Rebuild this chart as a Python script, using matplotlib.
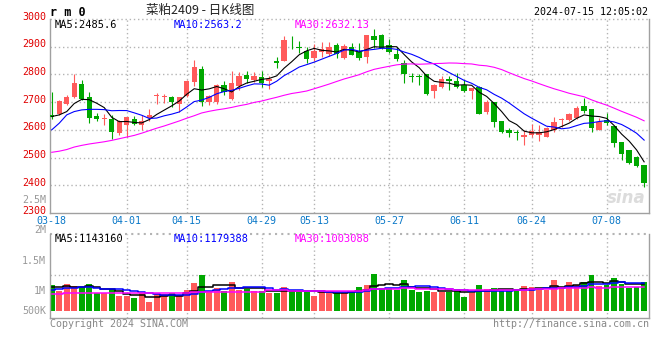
import numpy as np
import pandas as pd
import matplotlib
matplotlib.use("Agg")
import matplotlib.pyplot as plt
import matplotlib.transforms as mtransforms

W, H = 660, 360

# trading days (weekends and exchange holidays are skipped)
holidays = ["2024-04-04", "2024-04-05", "2024-05-01", "2024-05-02", "2024-05-03", "2024-06-10"]
days = pd.bdate_range("2024-03-18", "2024-07-15")
days = days[~days.isin(pd.to_datetime(holidays))]
tick_labels = ["03-18", "04-01", "04-15", "04-29", "05-13", "05-27", "06-11", "06-24", "07-08"]

opens = [2655, 2656, 2695, 2719, 2764, 2719, 2650, 2639, 2639, 2588,
         2616, 2638, 2618, 2642, 2721, 2718, 2719, 2695, 2723, 2773,
         2818, 2699, 2699, 2761, 2713, 2758, 2799, 2779, 2789, 2775,
         2850, 2848, 2911, 2898, 2886, 2858, 2880, 2874, 2907, 2860,
         2900, 2880, 2862, 2939, 2943, 2907, 2874, 2842, 2794, 2794,
         2800, 2739, 2755, 2782, 2777, 2761, 2739, 2755, 2666, 2699,
         2632, 2600, 2591, 2573, 2580, 2582, 2576, 2600, 2635, 2635,
         2644, 2687, 2675, 2601, 2636, 2614, 2557, 2529, 2501, 2475]
highs = [2735, 2707, 2727, 2800, 2779, 2735, 2660, 2656, 2654, 2636,
         2648, 2650, 2654, 2677, 2733, 2731, 2721, 2719, 2779, 2852,
         2832, 2727, 2767, 2776, 2814, 2808, 2812, 2808, 2814, 2794,
         2862, 2939, 2937, 2921, 2898, 2910, 2918, 2918, 2913, 2910,
         2915, 2915, 2943, 2963, 2945, 2927, 2898, 2852, 2806, 2801,
         2800, 2764, 2796, 2794, 2806, 2779, 2751, 2757, 2707, 2699,
         2632, 2606, 2600, 2600, 2622, 2618, 2612, 2648, 2644, 2662,
         2687, 2716, 2675, 2642, 2660, 2614, 2557, 2529, 2505, 2475]
lows = [2640, 2653, 2689, 2716, 2707, 2624, 2632, 2618, 2568, 2580,
        2576, 2618, 2598, 2632, 2692, 2698, 2683, 2666, 2718, 2757,
        2687, 2689, 2695, 2727, 2707, 2743, 2769, 2773, 2755, 2749,
        2824, 2848, 2892, 2877, 2840, 2850, 2864, 2865, 2858, 2856,
        2870, 2852, 2840, 2895, 2893, 2877, 2850, 2770, 2773, 2761,
        2725, 2716, 2751, 2744, 2751, 2737, 2713, 2657, 2657, 2612,
        2588, 2576, 2564, 2547, 2573, 2561, 2574, 2594, 2611, 2632,
        2639, 2660, 2594, 2599, 2618, 2537, 2491, 2478, 2467, 2394]
closes = [2647, 2704, 2719, 2769, 2711, 2642, 2639, 2641, 2594, 2632,
          2645, 2622, 2632, 2654, 2725, 2723, 2699, 2719, 2775, 2826,
          2699, 2721, 2761, 2735, 2768, 2796, 2785, 2793, 2769, 2785,
          2842, 2925, 2908, 2895, 2856, 2886, 2890, 2898, 2874, 2904,
          2871, 2858, 2943, 2924, 2895, 2882, 2856, 2802, 2791, 2791,
          2731, 2761, 2782, 2777, 2755, 2739, 2751, 2657, 2701, 2627,
          2594, 2587, 2587, 2582, 2597, 2593, 2606, 2627, 2639, 2656,
          2680, 2668, 2606, 2630, 2623, 2551, 2513, 2481, 2469, 2409]
# volume, thousands of lots
volumes = [1092, 854, 1134, 1050, 994, 1134, 742, 742, 910, 630,
           630, 546, 742, 378, 700, 714, 770, 672, 882, 1190,
           1512, 854, 952, 854, 1232, 882, 910, 854, 854, 770,
           770, 1022, 882, 798, 812, 630, 882, 770, 742, 742,
           854, 1022, 1092, 1554, 952, 952, 882, 1302, 882, 812,
           854, 812, 812, 812, 910, 602, 770, 1092, 924, 952,
           854, 854, 910, 1050, 1022, 924, 882, 1302, 994, 1218,
           1092, 1218, 1512, 1050, 1092, 1386, 1134, 952, 1022, 1218]

# moving-average values before a full window exists
ma5_head = [2648, 2654, 2666, 2695]
ma10_head = [2600, 2624, 2654, 2666, 2672, 2674, 2674, 2673, 2669]
ma30_head = [2519, 2523, 2529, 2538, 2544, 2549, 2553, 2557, 2562, 2568,
             2574, 2580, 2588, 2597, 2606, 2614, 2623, 2632, 2642, 2651,
             2661, 2667, 2672, 2676, 2681, 2687, 2692, 2699, 2704]
vma5_head = [994, 1022, 1050, 1022]
vma10_head = [882, 910, 952, 980, 994, 994, 966, 938, 910]
vma30_head = [700, 700, 742, 742, 742, 742, 742, 742, 770, 770,
              770, 770, 770, 770, 770, 770, 770, 770, 770, 798,
              798, 798, 798, 798, 798, 798, 798, 798, 798]

# legend values as printed on the chart
price_ma_text = ["MA5:2485.6", "MA10:2563.2", "MA30:2632.13"]
vol_ma_text = ["MA5:1143160", "MA10:1179388", "MA30:1003088"]
vol_axis_labels = ["2.5M", "2M", "1.5M", "1M", "500K"]

RED = "#ff5a5a"
GREEN = "#00a800"
GRID = "#b4b4b4"
FRAME = "#a0a0a0"
MONO = "DejaVu Sans Mono"
MA_COLORS = ["black", "#0000ff", "#ff00ff"]


def moving(vals, n, head):
    s = pd.Series(vals, dtype=float).rolling(n).mean()
    s.iloc[:n - 1] = head
    return s.values


o = np.array(opens)
h = np.array(highs)
l = np.array(lows)
c = np.array(closes)
v = np.array(volumes) * 1000.0
x = np.arange(len(c))
cols = np.where(c >= o, RED, GREEN)

ma = [moving(closes, 5, ma5_head), moving(closes, 10, ma10_head), moving(closes, 30, ma30_head)]
vma = [moving(volumes, 5, vma5_head) * 1000, moving(volumes, 10, vma10_head) * 1000,
       moving(volumes, 30, vma30_head) * 1000]

tick_idx = [days.get_loc(pd.Timestamp("2024-" + t)) for t in tick_labels]

fig = plt.figure(figsize=(W / 100, H / 100), dpi=100)


def box(x0, y0, x1, y1):
    return [x0 / W, 1 - y1 / H, (x1 - x0) / W, (y1 - y0) / H]


def ptext(px, py, s, **kw):
    fig.text(px / W, 1 - py / H, s, **kw)


# ---- price panel
ax = fig.add_axes(box(50, 19, 649, 213))
ax.set_xlim(-0.23, 79.65)
ax.set_ylim(2300, 3000)
for p in range(2400, 3001, 100):
    ax.axhline(p, color=GRID, lw=1, ls=(0, (1, 2)), zorder=0, clip_on=False)
for t in tick_idx[1:]:
    ax.axvline(t, color=GRID, lw=1, ls=(0, (1, 2)), zorder=0)

ax.vlines(x, l, h, colors=cols, lw=0.8, zorder=2)
body = np.maximum(np.abs(c - o), 2.5)
ax.bar(x, body, bottom=np.minimum(o, c), width=0.72, color=cols, lw=0, zorder=3)

for line, col in zip(ma, MA_COLORS):
    ax.plot(x, line, color=col, lw=0.8, zorder=4)

ax.set_yticks(range(2300, 3001, 100))
ax.tick_params(axis="y", length=0, pad=3, labelcolor="#e00000", labelsize=7.2)
ax.set_xticks(tick_idx, tick_labels)
ax.tick_params(axis="x", length=0, pad=2, labelcolor="#0a78c8", labelsize=7.2)
up = mtransforms.ScaledTranslation(0, 2.5 / 72, fig.dpi_scale_trans)
for lab in ax.get_yticklabels():
    lab.set_family(MONO)
    lab.set_transform(lab.get_transform() + up)
for lab in ax.get_xticklabels():
    lab.set_family(MONO)
ax.spines["top"].set_visible(False)
for s in ["left", "right", "bottom"]:
    ax.spines[s].set_color(FRAME)
    ax.spines[s].set_linewidth(1)

ax.text(0.995, 0.03, "sina", transform=ax.transAxes, ha="right", va="bottom",
        fontsize=12, fontweight="bold", style="italic", color="#dcdcdc", zorder=1)

# ---- volume panel
axv = fig.add_axes(box(50, 234, 649, 318))
axv.set_xlim(-0.23, 79.65)
axv.set_ylim(-294e3, 3234e3)
axv.axhline(1.5e6, color=GRID, lw=1, ls=(0, (1, 2)), zorder=0)
axv.axhline(3234e3, color=GRID, lw=1.5, ls=(0, (1, 2)), zorder=0, clip_on=False)
for t in tick_idx[1:]:
    axv.axvline(t, color=GRID, lw=1, ls=(0, (1, 2)), zorder=0)
axv.bar(x, v, width=0.76, color=cols, lw=0, zorder=2)
for line, col in zip(vma, MA_COLORS):
    axv.plot(x, line, color=col, lw=1.1, drawstyle="steps-mid", zorder=3)
axv.set_xticks([])
axv.set_yticks([])
axv.spines["top"].set_visible(False)
for s in ["left", "right", "bottom"]:
    axv.spines[s].set_color(FRAME)
    axv.spines[s].set_linewidth(1)

# volume axis labels, placed where the original draws them
for lab, py in zip(vol_axis_labels, [200, 230, 261, 291, 311]):
    ptext(46, py, lab, ha="right", va="center", color="#999999", fontsize=7.2, family=MONO)

# ---- header / legend texts
ptext(50, 12, "r m 0", ha="left", va="center", fontsize=8.5, fontweight="bold", family=MONO)
ptext(200, 10, "菜粕2409 - 日K线图", ha="center", va="center", fontsize=9,
      family=["Noto Sans CJK SC", "DejaVu Sans"], color="#222222")
ptext(648, 12, "2024-07-15 12:05:02", ha="right", va="center", fontsize=7.2, family=MONO)

for txt, px_, col in zip(price_ma_text, [55, 174, 295], MA_COLORS):
    ptext(px_, 25, txt, ha="left", va="center", fontsize=7.5, family=MONO, color=col)
for txt, px_, col in zip(vol_ma_text, [55, 174, 295], MA_COLORS):
    ptext(px_, 239, txt, ha="left", va="center", fontsize=7.5, family=MONO, color=col)

ptext(50, 324, "Copyright 2024 SINA.COM", ha="left", va="center", fontsize=7.2, family=MONO, color="#888888")
ptext(649, 324, "http://finance.sina.com.cn", ha="right", va="center", fontsize=7.2, family=MONO, color="#888888")

fig.savefig("out.png", dpi=100, facecolor="white")
